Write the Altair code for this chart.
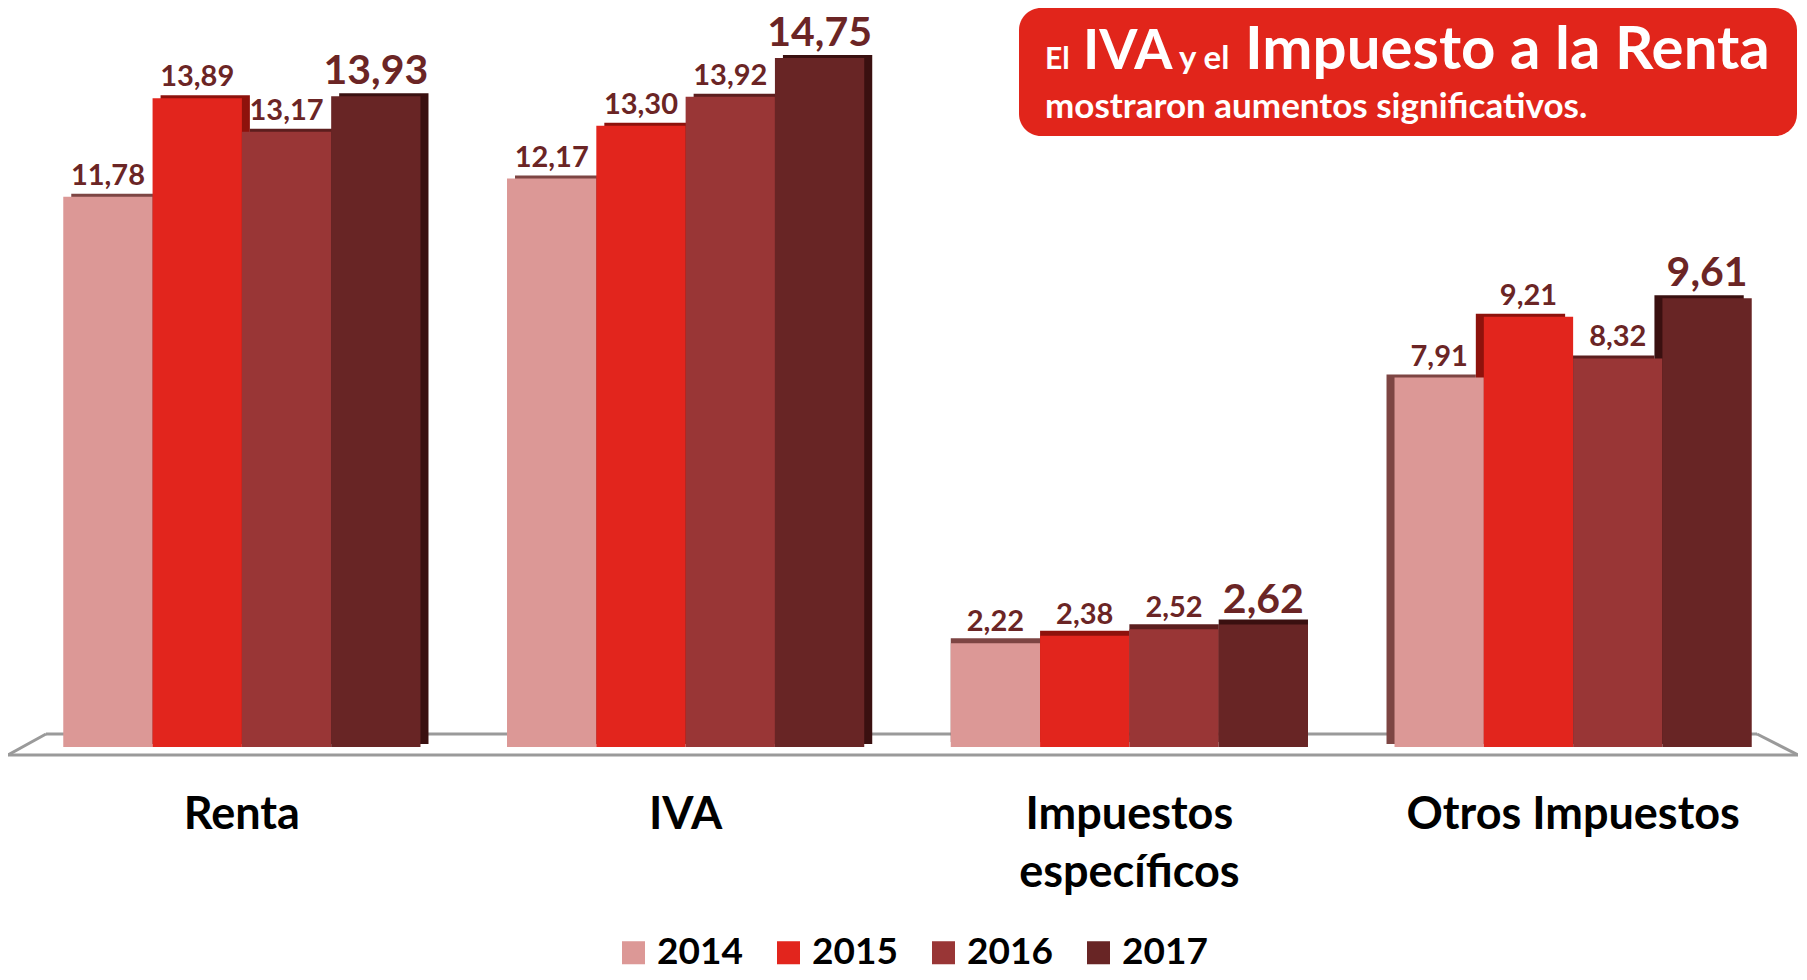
import altair as alt
import pandas as pd

categories = ["Renta", "IVA", "Impuestos específicos", "Otros Impuestos"]
years = ["2014", "2015", "2016", "2017"]
v2014 = [11.78, 12.17, 2.22, 7.91]
v2015 = [13.89, 13.30, 2.38, 9.21]
v2016 = [13.17, 13.92, 2.52, 8.32]
v2017 = [13.93, 14.75, 2.62, 9.61]
colors = ["#DC9896", "#E2251D", "#993636", "#682525"]
side_colors = ["#7d4543", "#8e120c", "#5c1e1e", "#3a1010"]

rows = []
for i, c in enumerate(categories):
    for j, (y, vals) in enumerate(zip(years, [v2014, v2015, v2016, v2017])):
        rows.append({"cat": c, "year": y, "side": side_colors[j], "value": vals[i],
                     "label": f"{vals[i]:.2f}".replace(".", ",")})
df = pd.DataFrame(rows)

FONT = "Lato"
W, H = 1775, 738
PI, PO = 0.195, 0.0975
BW = W / (4 - PI + 2 * PO) * (1 - PI)

x_enc = alt.X(
    "cat:N", sort=categories,
    scale=alt.Scale(paddingInner=PI, paddingOuter=PO),
    axis=alt.Axis(title=None, domain=False, ticks=False, tickSize=0, labelPadding=45,
                  labelFont=FONT, labelFontSize=45, labelFontWeight="bold",
                  labelColor="#000000", labelAngle=0, labelLineHeight=58, labelLimit=0,
                  labelExpr="datum.label == 'Impuestos específicos' ? ['Impuestos', 'específicos'] : datum.label"),
)


def xo_enc(shift=0):
    return alt.XOffset("year:N", sort=years,
                       scale=alt.Scale(paddingInner=0, paddingOuter=0, range=[shift, BW + shift]))


y_enc = alt.Y("value:Q", scale=alt.Scale(domain=[0, 15.8], nice=False, zero=True), axis=None)

base = alt.Chart(df)

one = pd.DataFrame({"a": [0]})
floor_col = "#9a9a9a"
floor = alt.layer(
    alt.Chart(one).mark_rule(color=floor_col, strokeWidth=3).encode(
        x=alt.value(26), x2=alt.value(1737), y=alt.value(725), y2=alt.value(725)),
    alt.Chart(one).mark_rule(color=floor_col, strokeWidth=3).encode(
        x=alt.value(-12), x2=alt.value(1778), y=alt.value(746), y2=alt.value(746)),
    alt.Chart(one).mark_rule(color=floor_col, strokeWidth=3).encode(
        x=alt.value(-12), x2=alt.value(26), y=alt.value(746), y2=alt.value(725)),
    alt.Chart(one).mark_rule(color=floor_col, strokeWidth=3).encode(
        x=alt.value(1737), x2=alt.value(1778), y=alt.value(725), y2=alt.value(746)),
)

fill_enc = alt.Fill("side:N", scale=None)

side_left = base.transform_filter(
    alt.FieldOneOfPredicate(field="cat", oneOf=["Renta", "IVA"])
).mark_bar(yOffset=-3, y2Offset=-3).encode(x=x_enc, xOffset=xo_enc(8), y=y_enc, fill=fill_enc)

side_mid = base.transform_filter(
    alt.FieldOneOfPredicate(field="cat", oneOf=["Impuestos específicos"])
).mark_bar(yOffset=-5, y2Offset=-5).encode(x=x_enc, xOffset=xo_enc(0), y=y_enc, fill=fill_enc)

side_right = base.transform_filter(
    alt.FieldOneOfPredicate(field="cat", oneOf=["Otros Impuestos"])
).mark_bar(yOffset=-3, y2Offset=-3).encode(x=x_enc, xOffset=xo_enc(-8), y=y_enc, fill=fill_enc)

bars = base.mark_bar().encode(
    x=x_enc, xOffset=xo_enc(0), y=y_enc,
    color=alt.Color("year:N", sort=years, scale=alt.Scale(domain=years, range=colors),
                    legend=alt.Legend(title=None, orient="none", legendX=595, legendY=925,
                                      direction="horizontal", symbolType="square",
                                      symbolSize=530, symbolStrokeWidth=0,
                                      labelFont=FONT, labelFontSize=37, labelFontWeight="bold",
                                      labelColor="#000000", columnPadding=27, labelOffset=5)),
)

labels = base.mark_text(font=FONT, fontWeight="bold", color="#6B2525", baseline="alphabetic",
                        align="center", dy=-12).encode(
    x=x_enc,
    xOffset=alt.XOffset("year:N", sort=years,
                        scale=alt.Scale(type="point", padding=0.5, range=[0, BW])),
    y=y_enc, text="label:N",
    size=alt.condition(alt.datum.year == "2017", alt.value(41), alt.value(29)),
)

box_col = "#E1251B"
box = alt.Chart(one).mark_rect(color=box_col, cornerRadius=22).encode(
    x=alt.value(999), x2=alt.value(1777), y=alt.value(-1), y2=alt.value(127))


def t(txt, x, y, size):
    return alt.Chart(one).mark_text(text=txt, font=FONT, fontWeight="bold", fontSize=size,
                                    color="#FFFFFF", align="left", baseline="alphabetic").encode(
        x=alt.value(x), y=alt.value(y))


title_texts = alt.layer(
    t("El", 1025, 60, 30),
    t("IVA", 1063, 60, 55),
    t("y el", 1159, 60, 33),
    t("Impuesto a la Renta", 1225, 60, 60),
    t("mostraron aumentos significativos.", 1025, 109, 35),
)

chart = alt.layer(floor, side_left, side_mid, side_right, bars, labels, box, title_texts).resolve_scale(
    xOffset="independent"
).properties(
    width=W, height=H,
    padding={"left": 12, "top": 1, "right": 3, "bottom": 222},
    autosize=alt.AutoSizeParams(type="none"),
).configure_view(stroke=None)

chart.save("out.html", embed_options={"renderer": "svg", "actions": False})
